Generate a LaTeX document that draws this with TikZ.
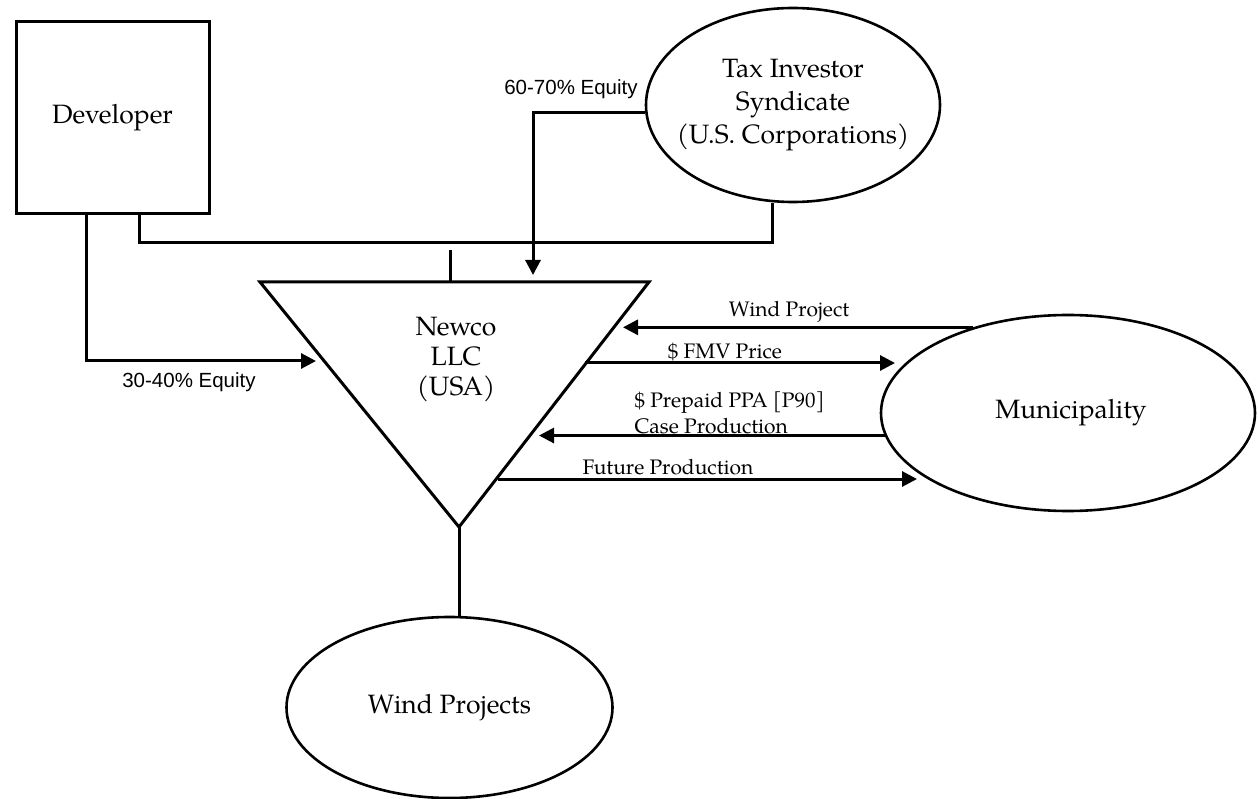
\documentclass[tikz,border=0pt]{standalone}
\usepackage{fontspec}
\setmainfont{TeX Gyre Pagella}
\newfontfamily\arialfont{Liberation Sans}
\usetikzlibrary{shapes.geometric,arrows.meta}
\begin{document}
\begin{tikzpicture}[x=1pt,y=-1pt,
  line width=3pt,
  box/.style={draw, line width=3pt, align=center, font=\fontsize{26.5}{33}\selectfont},
  oval/.style={ellipse, draw, line width=2.6pt, inner sep=0pt},
  ovaltext/.style={align=center, inner sep=0pt, font=\fontsize{26.5}{33}\selectfont},
  arr/.style={-{Triangle[length=15pt,width=15pt]}, line width=3pt},
  lbl/.style={font=\fontsize{21}{26}\selectfont, inner sep=0pt},
  slbl/.style={font=\arialfont\fontsize{20.5}{24}\selectfont, inner sep=0pt}]
\useasboundingbox (0,0) rectangle (1258,799);

% nodes
\node[box, minimum width=193pt, minimum height=192pt] (dev) at (112.5,118) {Developer};
\node[oval, minimum width=294pt, minimum height=194pt] (tax) at (793,105) {};
\node[ovaltext] (taxt) at (tax.center) {Tax Investor\\Syndicate\\(U.S. Corporations)};
\node[oval, minimum width=326pt, minimum height=181pt] (wp) at (449.5,707.5) {};
\node[ovaltext] (wpt) at (wp.center) {Wind Projects};
\node[oval, minimum width=374pt, minimum height=196pt] (mun) at (1068,413) {};
\node[ovaltext] (munt) at (1071,413) {Municipality};

% triangle
\coordinate (tl) at (260,282);
\coordinate (tr) at (649,282);
\coordinate (tb) at (459,527);
\draw[line width=3pt, line join=miter] (tl) -- (tr) -- (tb) -- cycle;
\node[align=center, font=\fontsize{26.5}{30}\selectfont, inner sep=0pt] (newco) at (456,360) {Newco\\LLC\\(USA)};

% coordinates
\coordinate (eqin) at (316,361);
\coordinate (jn) at (450,243);
\coordinate (stub) at (450,250);
\coordinate (eqtop) at (533,275);
\coordinate (a1) at (623,328);
\coordinate (a2) at (585,363);
\coordinate (b2) at (895,363);
\coordinate (a3) at (539,435);
\coordinate (a4) at (498,479);
\coordinate (b4) at (917,479);

% connectors
\draw[arr] ([xshift=-26.5pt]dev.south) |- (eqin);
\draw ([xshift=26.5pt]dev.south) |- (jn) -| ([xshift=-21pt]tax.south);
\draw (stub) -- (stub |- tl);
\draw[arr] (tax.183) -| (eqtop);
\draw (tb) -- (tb |- wp.north);
\draw[arr] (mun.138) -- (mun.138 -| a1);
\draw[arr] (a2) -- (b2);
\draw[arr] (mun.187) -- (mun.187 -| a3);
\draw[arr] (a4) -- (b4);

% labels
\node[slbl] (l3040) at (189,382) {30-40\% Equity};
\node[slbl] (l6070) at (571,89) {60-70\% Equity};
\node[lbl] (lwp) at (789,312) {Wind Project};
\node[lbl] (lfmv) at (725,352) {\$ FMV Price};
\node[lbl, anchor=west, align=left] (lppa) at (633,413) {\$ Prepaid PPA [P90]\\Case Production};
\node[lbl, anchor=west] (lfut) at (581,467) {Future Production};
\end{tikzpicture}
\end{document}
